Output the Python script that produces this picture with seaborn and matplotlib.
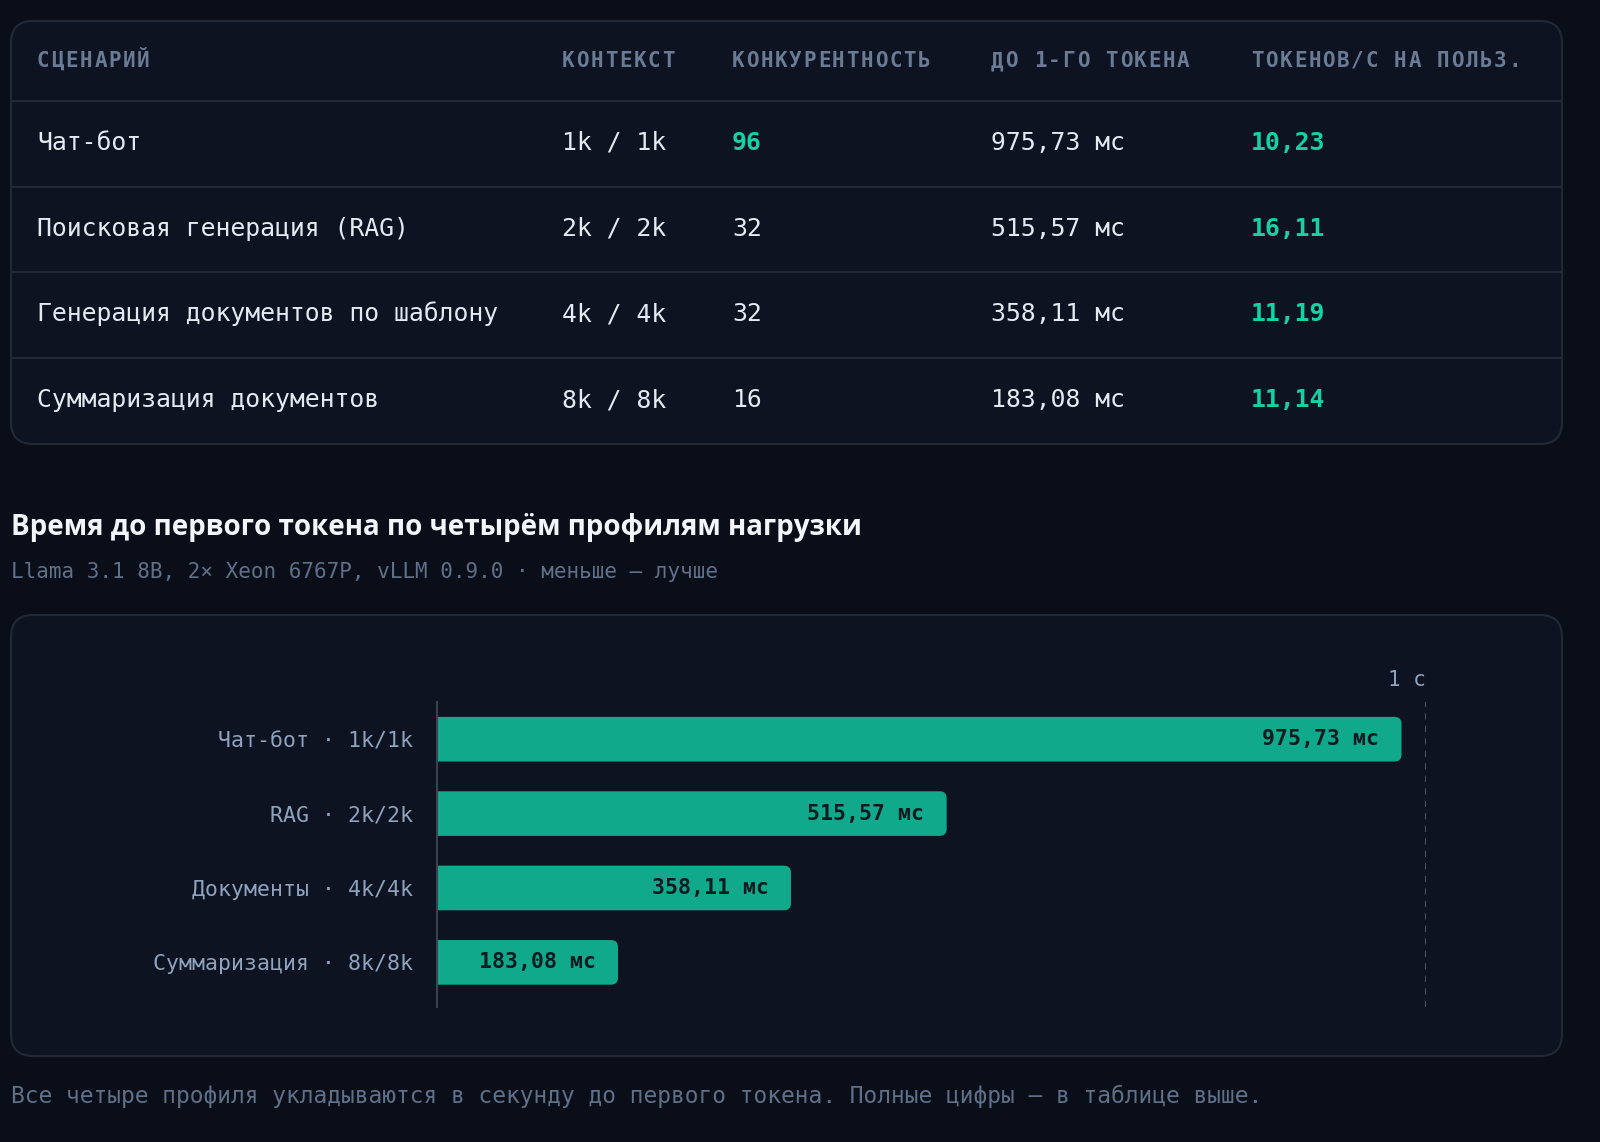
import matplotlib
matplotlib.use("Agg")
import matplotlib.pyplot as plt
from matplotlib.patches import FancyBboxPatch
import seaborn as sns
import pandas as pd

# --- Data ---
SCENARIOS = ["Чат-бот", "Поисковая генерация (RAG)",
             "Генерация документов по шаблону", "Суммаризация документов"]
CONTEXTS = ["1k / 1k", "2k / 2k", "4k / 4k", "8k / 8k"]
CONCURRENCY = [96, 32, 32, 16]
TTFT_MS = [975.73, 515.57, 358.11, 183.08]
TOKENS_PER_USER = [10.23, 16.11, 11.19, 11.14]
BAR_LABELS = ["Чат-бот · 1k/1k", "RAG · 2k/2k", "Документы · 4k/4k", "Суммаризация · 8k/8k"]
HEADERS = ["СЦЕНАРИЙ", "КОНТЕКСТ", "КОНКУРЕНТНОСТЬ", "ДО 1-ГО ТОКЕНА", "ТОКЕНОВ/С НА ПОЛЬЗ."]

TITLE = "Время до первого токена по четырём профилям нагрузки"
SUBTITLE = "Llama 3.1 8B, 2× Xeon 6767P, vLLM 0.9.0 · меньше — лучше"
FOOTNOTE = "Все четыре профиля укладываются в секунду до первого токена. Полные цифры — в таблице выше."

# --- Style ---
BG = "#0a0e18"
CARD = "#0d1320"
BORDER = "#212937"
TEAL = "#10a98b"
GREEN = "#14d3a0"
TEXT = "#e4eaf2"
HEAD = "#6a7c95"
MUTED = "#5f7089"
LABEL = "#8fa3bf"
MONO = "DejaVu Sans Mono"

W, H = 1600, 1142
sns.set_theme(style="dark")
plt.rcParams["font.family"] = [MONO]


def fmt(v):
    return f"{v:.2f}".replace(".", ",")


fig = plt.figure(figsize=(W / 100, H / 100), dpi=100, facecolor=BG)

# background canvas in pixel coordinates (y down)
bg = fig.add_axes([0, 0, 1, 1], zorder=0)
bg.set_xlim(0, W)
bg.set_ylim(H, 0)
bg.axis("off")
bg.set_facecolor(BG)


def card(x0, y0, x1, y1):
    bg.add_patch(FancyBboxPatch((x0, y0), x1 - x0, y1 - y0,
                                boxstyle="round,pad=0,rounding_size=22",
                                fc=CARD, ec=BORDER, lw=1.5))


def spaced(x, y, s, step, **kw):
    for i, ch in enumerate(s):
        bg.text(x + i * step, y, ch, ha="left", va="center", **kw)


# --- Table card ---
card(11, 21, 1562, 444)
col_x = [37, 562, 732, 991, 1251]
for x, h in zip(col_x, HEADERS):
    spaced(x, 61, h, 14.3, fontsize=15, color=HEAD, fontweight="bold", family=MONO)
for y in [101, 187, 272, 358]:
    bg.plot([12, 1561], [y, y], color=BORDER, lw=1.5)

row_y = [143, 229, 314, 400]
max_conc = max(CONCURRENCY)
for i, y in enumerate(row_y):
    kw = dict(va="center", ha="left", fontsize=17.8, family=MONO)
    bg.text(col_x[0], y, SCENARIOS[i], color=TEXT, **kw)
    bg.text(col_x[1], y, CONTEXTS[i], color=TEXT, **kw)
    hi = CONCURRENCY[i] == max_conc
    bg.text(col_x[2], y, str(CONCURRENCY[i]), color=GREEN if hi else TEXT,
            fontweight="bold" if hi else "normal", **kw)
    bg.text(col_x[3], y, f"{fmt(TTFT_MS[i])} мс", color=TEXT, **kw)
    bg.text(col_x[4], y, fmt(TOKENS_PER_USER[i]), color=GREEN, fontweight="bold", **kw)

# --- Title block ---
bg.text(11, 527, TITLE, ha="left", va="center", fontsize=20, fontweight="bold",
        color="#f2f5f9", family=["Open Sans", "DejaVu Sans"])
bg.text(11, 572, SUBTITLE, ha="left", va="center", fontsize=15, color=MUTED, family=MONO)

# --- Bar chart card ---
card(11, 615, 1562, 1056)

ax_l, ax_r, ax_t, ax_b = 437, 1425.5, 702, 1007
ax = fig.add_axes([ax_l / W, 1 - ax_b / H, (ax_r - ax_l) / W, (ax_b - ax_t) / H], zorder=2)
ax.set_facecolor("none")

df = pd.DataFrame({"label": BAR_LABELS, "ttft": TTFT_MS})
sns.barplot(data=df, x="ttft", y="label", orient="h", color=TEAL, width=0.6,
            saturation=1, ax=ax)
ax.set_xlim(0, 1000)
ax.set_ylim(3.6, -0.5)
ax.set_xlabel("")
ax.set_ylabel("")
ax.set_xticks([])
ax.tick_params(axis="y", length=0, pad=17, labelsize=15.5, labelcolor=LABEL)
for lab in ax.get_yticklabels():
    lab.set_family(MONO)
ax.grid(False)
for side in ["top", "right", "bottom"]:
    ax.spines[side].set_visible(False)
ax.spines["left"].set_color("#3a4250")
ax.spines["left"].set_linewidth(1.5)

ax.axvline(1000, color="#4a5363", lw=1.5, ls=(0, (3, 3)))
ax.text(1000, -0.8, "1 с", ha="right", va="center", fontsize=15, color=LABEL,
        family=MONO, clip_on=False)

# round the right-hand corners of the bars: redraw them in pixel space
fig.canvas.draw()
inv = bg.transData.inverted()
for p in list(ax.patches):
    bb = p.get_window_extent()
    (x0, y0), (x1, y1) = inv.transform([(bb.x0, bb.y0), (bb.x1, bb.y1)])
    top, bot = min(y0, y1), max(y0, y1)
    ax.add_patch(FancyBboxPatch((x0 - 8, top), (x1 - x0) + 8, bot - top,
                                boxstyle="round,pad=0,rounding_size=7",
                                fc=TEAL, ec="none", transform=bg.transData, zorder=1))
    p.set_visible(False)
ax.spines["left"].set_zorder(3)

for i, v in enumerate(TTFT_MS):
    ax.annotate(f"{fmt(v)} мс", xy=(v, i), xytext=(-16, 0), textcoords="offset points",
                ha="right", va="center", fontsize=15.5, fontweight="bold",
                color="#0b1b20", family=MONO, zorder=4)

# --- Footnote ---
bg.text(11, 1096, FOOTNOTE, ha="left", va="center", fontsize=16.5, color=MUTED, family=MONO)

fig.savefig("out.png", dpi=100, facecolor=BG)
